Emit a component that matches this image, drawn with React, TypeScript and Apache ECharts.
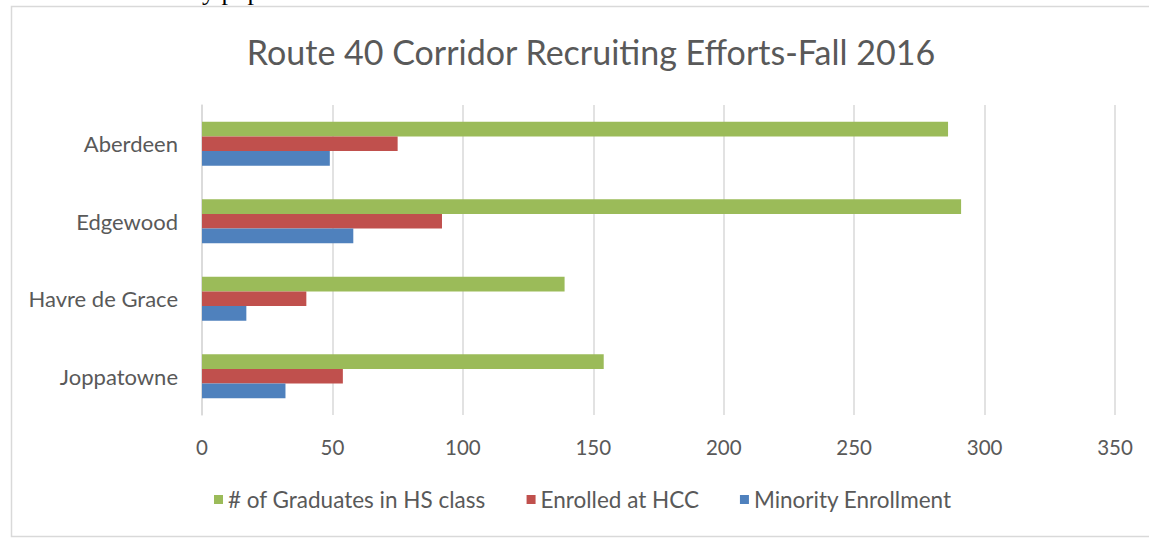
import React, { useEffect, useRef } from "react";
import * as echarts from "echarts";

const categories = ["Aberdeen", "Edgewood", "Havre de Grace", "Joppatowne"];
const graduates = [286, 291, 139, 154];
const enrolled = [75, 92, 40, 54];
const minority = [49, 58, 17, 32];
const seriesNames = ["# of Graduates in HS class", "Enrolled at HCC", "Minority Enrollment"];
const xTicks = { min: 0, max: 350, interval: 50 };
const titleText = "Route 40 Corridor Recruiting Efforts-Fall 2016";

const FONT = "Lato, 'Open Sans', sans-serif";
const TEXT = "#595959";

export default function App() {
  const ref = useRef<HTMLDivElement>(null);
  useEffect(() => {
    if (!ref.current) return;
    const chart = echarts.init(ref.current, null, { renderer: "svg" });
    const mk = (name: string, data: number[], color: string) => ({
      name,
      type: "bar",
      data,
      itemStyle: { color },
      barGap: "0%",
      barCategoryGap: "43%",
    });
    chart.setOption({
      animation: false,
      backgroundColor: "#ffffff",
      textStyle: { fontFamily: FONT },
      title: {
        text: titleText,
        left: 586,
        textAlign: "center",
        top: 29,
        textStyle: { fontFamily: FONT, fontSize: 34, fontWeight: "normal", color: TEXT },
      },
      graphic: [
        {
          type: "rect",
          shape: { x: 11.5, y: 6.5, width: 1160, height: 530 },
          style: { fill: "none", stroke: "#d9d9d9", lineWidth: 1.5 },
          silent: true,
        },
        {
          type: "text",
          x: 202,
          y: 4,
          style: {
            text: "y pop",
            font: "26px 'Liberation Serif', serif",
            fill: "#000",
            textVerticalAlign: "bottom",
          },
          silent: true,
        },
      ],
      legend: {
        left: 214,
        top: 488,
        padding: 0,
        itemWidth: 9,
        itemHeight: 9,
        itemGap: 41,
        icon: "rect",
        textStyle: { fontFamily: FONT, fontSize: 22.5, color: TEXT },
        data: seriesNames,
      },
      grid: { left: 202, right: 34, top: 105, bottom: 124, containLabel: false },
      xAxis: {
        type: "value",
        min: xTicks.min,
        max: xTicks.max,
        interval: xTicks.interval,
        axisLine: { show: false },
        axisTick: { show: false },
        axisLabel: { color: TEXT, fontSize: 20.5, fontFamily: FONT, margin: 21 },
        splitLine: { lineStyle: { color: "#d9d9d9", width: 1.5 } },
      },
      yAxis: {
        type: "category",
        data: categories,
        inverse: true,
        axisLine: { show: true, lineStyle: { color: "#d9d9d9", width: 1.5 } },
        axisTick: { show: false },
        axisLabel: { color: TEXT, fontSize: 22, fontFamily: FONT, margin: 24 },
      },
      series: [
        mk(seriesNames[0], graduates, "#9BBB59"),
        mk(seriesNames[1], enrolled, "#C0504D"),
        mk(seriesNames[2], minority, "#4F81BD"),
      ],
    });
    return () => chart.dispose();
  }, []);
  return (
    <div
      ref={ref}
      style={{ position: "fixed", left: 0, top: 0, width: 1149, height: 539, background: "#fff" }}
    />
  );
}
